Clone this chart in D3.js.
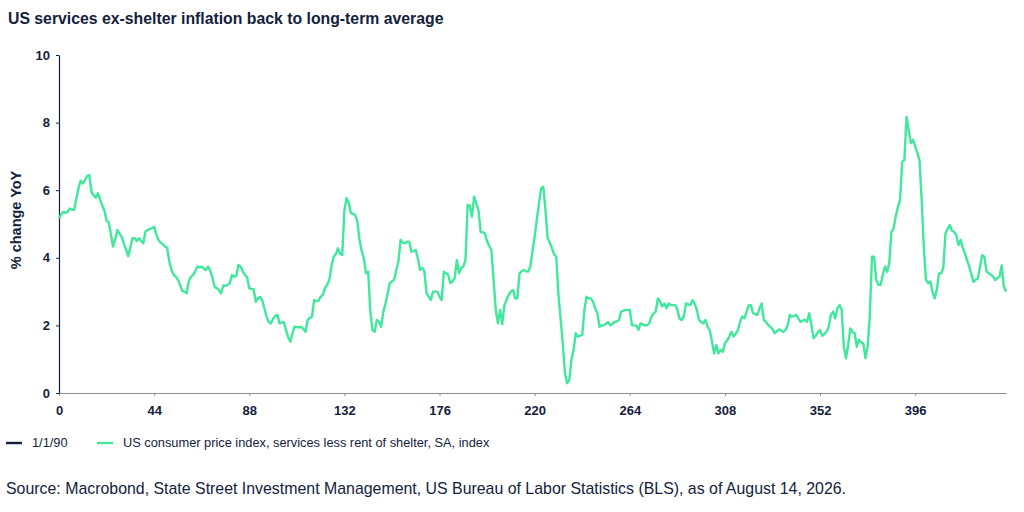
<!DOCTYPE html>
<html>
<head>
<meta charset="utf-8">
<script src="https://cdn.jsdelivr.net/npm/d3@7"></script>
<style>
  body { margin: 0; background: #fff; }
  svg { display: block; font-family: "Liberation Sans", Arial, sans-serif; }
</style>
</head>
<body>
<div id="mainDiv"></div>
<script>
// Values: % change YoY, one point per month index
let inflationValues = [
  5.17, 5.28, 5.36, 5.33, 5.36, 5.46, 5.42, 5.42, 5.75, 6.05,
  6.28, 6.20, 6.30, 6.42, 6.45, 5.95, 5.85, 5.78, 5.91, 5.72,
  5.55, 5.40, 5.10, 5.05, 4.70, 4.33, 4.55, 4.82, 4.72, 4.62,
  4.42, 4.25, 4.05, 4.30, 4.58, 4.58, 4.50, 4.58, 4.50, 4.43,
  4.78, 4.82, 4.86, 4.87, 4.92, 4.70, 4.53, 4.45, 4.40, 4.33,
  4.30, 3.90, 3.64, 3.50, 3.44, 3.36, 3.20, 3.02, 3.00, 2.95,
  3.30, 3.44, 3.49, 3.60, 3.74, 3.72, 3.74, 3.68, 3.64, 3.74,
  3.60, 3.40, 3.14, 3.10, 3.04, 2.95, 3.18, 3.17, 3.20, 3.25,
  3.49, 3.44, 3.46, 3.79, 3.74, 3.60, 3.49, 3.43, 3.10, 3.08,
  3.07, 2.70, 2.80, 2.84, 2.74, 2.50, 2.26, 2.10, 2.06, 2.20,
  2.28, 2.31, 2.06, 2.08, 2.10, 1.86, 1.65, 1.52, 1.77, 1.96,
  1.95, 1.94, 1.96, 1.90, 1.81, 2.16, 2.22, 2.26, 2.75, 2.72,
  2.73, 2.85, 2.90, 3.10, 3.20, 3.34, 3.74, 4.03, 4.10, 4.28,
  4.12, 4.08, 5.40, 5.76, 5.62, 5.32, 5.30, 5.27, 5.07, 4.53,
  4.20, 3.98, 3.54, 3.59, 2.40, 1.86, 1.81, 2.16, 2.11, 1.96,
  2.40, 2.65, 2.95, 3.25, 3.30, 3.35, 3.64, 3.90, 4.53, 4.45,
  4.43, 4.48, 4.48, 4.18, 4.20, 4.23, 3.98, 3.64, 3.70, 3.60,
  2.95, 2.85, 2.75, 3.00, 3.00, 3.00, 2.85, 2.75, 3.59, 3.55,
  3.50, 3.25, 3.30, 3.40, 3.93, 3.54, 3.70, 3.74, 3.93, 5.56,
  5.54, 5.22, 5.81, 5.60, 5.42, 4.77, 4.75, 4.72, 4.48, 4.35,
  4.23, 3.34, 2.46, 2.06, 2.46, 2.04, 2.60, 2.75, 2.90, 3.00,
  3.05, 2.80, 2.80, 3.54, 3.60, 3.64, 3.60, 3.59, 3.74, 4.20,
  4.63, 5.12, 5.61, 6.06, 6.10, 5.41, 4.58, 4.45, 4.28, 4.10,
  4.03, 2.90, 2.20, 1.47, 0.60, 0.29, 0.38, 0.98, 1.27, 1.77,
  1.67, 1.70, 1.72, 2.46, 2.85, 2.80, 2.80, 2.70, 2.50, 2.36,
  1.96, 2.00, 2.00, 2.05, 2.10, 2.00, 2.05, 2.10, 2.12, 2.16,
  2.41, 2.43, 2.46, 2.46, 2.46, 2.00, 2.00, 2.00, 1.87, 2.06,
  2.03, 2.00, 2.00, 2.06, 2.26, 2.35, 2.41, 2.80, 2.70, 2.56,
  2.65, 2.51, 2.65, 2.60, 2.60, 2.60, 2.46, 2.20, 2.16, 2.26,
  2.65, 2.62, 2.60, 2.75, 2.65, 2.46, 2.16, 2.10, 2.06, 2.16,
  1.95, 1.86, 1.52, 1.17, 1.42, 1.17, 1.27, 1.22, 1.47, 1.55,
  1.67, 1.81, 1.67, 1.75, 1.86, 2.11, 2.26, 2.21, 2.40, 2.60,
  2.60, 2.36, 2.33, 2.31, 2.50, 2.65, 2.16, 2.10, 2.01, 1.96,
  1.90, 1.77, 1.82, 1.88, 1.85, 1.81, 1.86, 2.00, 2.31, 2.26,
  2.28, 2.31, 2.20, 2.11, 2.14, 2.16, 2.11, 2.36, 2.00, 1.62,
  1.69, 1.80, 1.86, 1.69, 1.75, 1.81, 1.96, 2.31, 2.41, 2.21,
  2.50, 2.60, 2.46, 1.37, 1.03, 1.42, 1.91, 1.80, 1.77, 1.37,
  1.57, 1.50, 1.47, 1.03, 1.37, 2.26, 4.03, 4.03, 3.34, 3.20,
  3.20, 3.49, 3.74, 3.59, 3.84, 4.77, 4.87, 5.22, 5.50, 5.71,
  6.84, 6.89, 8.17, 7.78, 7.39, 7.49, 7.30, 7.10, 6.89, 5.70,
  4.30, 3.34, 3.25, 3.30, 3.00, 2.80, 3.05, 3.54, 3.54, 3.70,
  4.72, 4.85, 4.97, 4.80, 4.77, 4.67, 4.38, 4.53, 4.30, 4.13,
  3.93, 3.74, 3.50, 3.29, 3.35, 3.39, 3.74, 4.08, 4.03, 3.60,
  3.54, 3.50, 3.44, 3.34, 3.40, 3.44, 3.77, 3.15, 3.00
];
let xTickValues = [0, 44, 88, 132, 176, 220, 264, 308, 352, 396];
let yTickValues = [0, 2, 4, 6, 8, 10];
let legendLabels = ["1/1/90", "US consumer price index, services less rent of shelter, SA, index"];

let chartSize = {
  width: 1024,
  height: 512,
  margin: { top: 55, right: 18, bottom: 119, left: 59 }
};
let navy = "#14213d";
let green = "#3fe89b";

function createChart() {
  const svg = d3.select("#mainDiv")
    .append("svg")
    .attr("width", chartSize.width)
    .attr("height", chartSize.height);

  let x = d3.scaleLinear()
    .domain([0, inflationValues.length - 1])
    .range([chartSize.margin.left, chartSize.width - chartSize.margin.right]);

  let y = d3.scaleLinear()
    .domain([0, 10])
    .range([chartSize.height - chartSize.margin.bottom, chartSize.margin.top]);

  // title
  svg.append("text")
    .attr("x", 8)
    .attr("y", 24)
    .attr("fill", navy)
    .attr("font-weight", "bold")
    .attr("font-size", 15.8)
    .text("US services ex-shelter inflation back to long-term average");

  // x axis
  let xAxis = svg.append("g")
    .attr("transform", `translate(0,${y(0)})`)
    .call(d3.axisBottom(x).tickValues(xTickValues).tickSize(3).tickPadding(10).tickSizeOuter(0));
  xAxis.select(".domain").attr("stroke", "#8a8f99").attr("stroke-width", 1.2);
  xAxis.selectAll(".tick line").attr("stroke", "#8a8f99");
  xAxis.selectAll(".tick text")
    .attr("fill", navy)
    .attr("font-weight", "bold")
    .attr("font-size", 13)
    .attr("font-family", "Liberation Sans, Arial, sans-serif");

  // y axis
  let yAxis = svg.append("g")
    .attr("transform", `translate(${chartSize.margin.left},0)`)
    .call(d3.axisLeft(y).tickValues(yTickValues).tickSize(3).tickPadding(6).tickSizeOuter(0));
  yAxis.select(".domain").attr("stroke", navy).attr("stroke-width", 1.2);
  yAxis.selectAll(".tick line").attr("stroke", navy);
  yAxis.selectAll(".tick text")
    .attr("fill", navy)
    .attr("font-weight", "bold")
    .attr("font-size", 13)
    .attr("font-family", "Liberation Sans, Arial, sans-serif");

  svg.append("text")
    .attr("transform", "translate(21,220) rotate(-90)")
    .attr("text-anchor", "middle")
    .attr("fill", navy)
    .attr("font-weight", "bold")
    .attr("font-size", 14.5)
    .text("% change YoY");

  // series line
  let line = d3.line()
    .x((d, i) => x(i))
    .y(d => y(d));

  svg.append("path")
    .datum(inflationValues)
    .attr("fill", "none")
    .attr("stroke", green)
    .attr("stroke-width", 2.4)
    .attr("stroke-linejoin", "round")
    .attr("d", line);

  // legend
  let legendItems = [
    { label: legendLabels[0], color: navy, x: 6 },
    { label: legendLabels[1], color: green, x: 97 }
  ];
  let legend = svg.append("g").attr("transform", "translate(0,443)");
  legend.selectAll("line")
    .data(legendItems)
    .join("line")
    .attr("x1", d => d.x)
    .attr("x2", d => d.x + 16)
    .attr("stroke", d => d.color)
    .attr("stroke-width", 2.4);
  legend.selectAll("text")
    .data(legendItems)
    .join("text")
    .attr("x", d => d.x + 26)
    .attr("dy", "0.35em")
    .attr("fill", navy)
    .attr("font-size", 12.8)
    .text(d => d.label);

  // source
  svg.append("text")
    .attr("x", 6)
    .attr("y", 494)
    .attr("fill", navy)
    .attr("font-size", 15.9)
    .text("Source: Macrobond, State Street Investment Management, US Bureau of Labor Statistics (BLS), as of August 14, 2026.");

  return svg.node();
}

createChart();
</script>
</body>
</html>
